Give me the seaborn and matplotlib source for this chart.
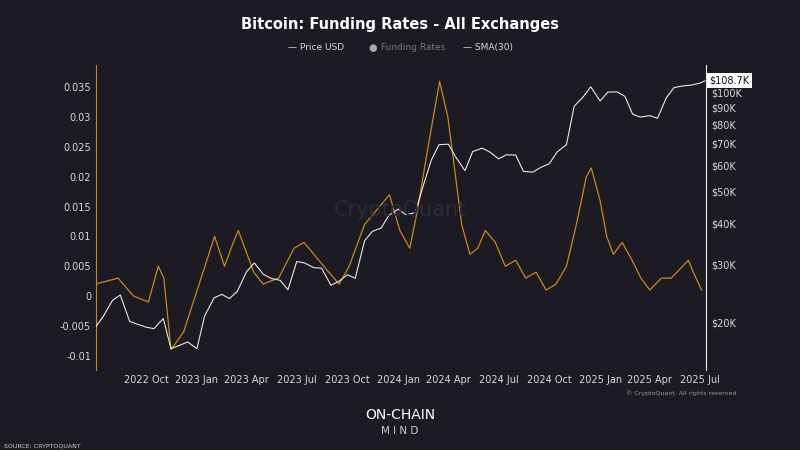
import numpy as np
import pandas as pd
import matplotlib
matplotlib.use("Agg")
import matplotlib.pyplot as plt
import matplotlib.dates as mdates
from matplotlib.ticker import FuncFormatter, FixedLocator, NullLocator
import seaborn as sns

price_dates = ["2022-07-01","2022-07-15","2022-08-01","2022-08-15","2022-09-01","2022-09-15","2022-10-01","2022-10-15",
"2022-11-01","2022-11-15","2022-12-01","2022-12-15","2023-01-01","2023-01-15","2023-02-01","2023-02-15","2023-03-01",
"2023-03-15","2023-04-01","2023-04-15","2023-05-01","2023-05-15","2023-06-01","2023-06-15","2023-07-01","2023-07-15",
"2023-08-01","2023-08-15","2023-09-01","2023-09-15","2023-10-01","2023-10-15","2023-11-01","2023-11-15","2023-12-01",
"2023-12-15","2024-01-01","2024-01-15","2024-02-01","2024-02-15","2024-03-01","2024-03-15","2024-04-01","2024-04-15",
"2024-05-01","2024-05-15","2024-06-01","2024-06-15","2024-07-01","2024-07-15","2024-08-01","2024-08-15","2024-09-01",
"2024-09-15","2024-10-01","2024-10-15","2024-11-01","2024-11-15","2024-12-01","2024-12-15","2025-01-01","2025-01-15",
"2025-02-01","2025-02-15","2025-03-01","2025-03-15","2025-04-01","2025-04-15","2025-05-01","2025-05-15","2025-06-01",
"2025-06-15","2025-07-01","2025-07-10"]
price_usd = [19300,20800,23300,24200,20100,19700,19300,19100,20500,16600,17000,17400,16600,20900,23700,24300,23600,
24800,28500,30300,28000,27200,26800,25100,30600,30300,29300,29200,25900,26600,27900,27200,35400,37800,38700,
42300,44200,42500,43100,51900,62400,69500,69700,63400,57900,66200,67800,66000,62900,64700,64600,57600,57300,
59200,60800,66000,69500,91000,97000,104300,94400,100500,100600,97500,86000,84300,85200,83600,96500,103700,105000,
105500,107000,108700]

sma_dates = ["2022-07-01","2022-08-11","2022-09-08","2022-10-05","2022-10-23","2022-11-02","2022-11-15","2022-12-08",
"2023-01-05","2023-02-02","2023-02-20","2023-03-08","2023-03-17","2023-04-14","2023-05-01","2023-05-29","2023-06-26",
"2023-07-14","2023-08-10","2023-08-28","2023-09-16","2023-10-04","2023-11-01","2023-11-28","2023-12-16","2024-01-04",
"2024-01-22","2024-02-06","2024-02-24","2024-03-16","2024-03-31","2024-04-14","2024-04-25","2024-05-10","2024-05-24",
"2024-06-07","2024-06-25","2024-07-13","2024-08-01","2024-08-19","2024-09-07","2024-09-25","2024-10-13","2024-11-01",
"2024-11-19","2024-12-07","2024-12-16","2025-01-01","2025-01-13","2025-01-25","2025-02-10","2025-02-28","2025-03-16",
"2025-04-01","2025-04-22","2025-05-10","2025-06-10","2025-06-19","2025-07-04"]
sma30 = [0.002,0.003,0.0,-0.001,0.005,0.003,-0.009,-0.006,0.002,0.010,0.005,0.009,0.011,0.004,0.002,0.003,0.008,
0.009,0.006,0.004,0.002,0.005,0.012,0.015,0.017,0.011,0.008,0.015,0.025,0.036,0.030,0.020,0.012,0.007,0.008,
0.011,0.009,0.005,0.006,0.003,0.004,0.001,0.002,0.005,0.012,0.020,0.0215,0.016,0.010,0.007,0.009,0.006,0.003,
0.001,0.003,0.003,0.006,0.004,0.001]

left_ticks = [-0.01,-0.005,0,0.005,0.01,0.015,0.02,0.025,0.03,0.035]
right_ticks = [20000,30000,40000,50000,60000,70000,80000,90000,100000]

price_df = pd.DataFrame({"date": pd.to_datetime(price_dates), "price": price_usd})
sma_df = pd.DataFrame({"date": pd.to_datetime(sma_dates), "sma": sma30})

bg = "#1c1b23"
txt = "#d8d8d8"
orange = "#c9891c"

fig = plt.figure(figsize=(8, 4.5), dpi=100, facecolor=bg)
ax = fig.add_axes([0.12, 0.178, 0.7625, 0.678], facecolor=bg)
sns.lineplot(data=sma_df, x="date", y="sma", ax=ax, color=orange, lw=0.9)
ax.set_ylim(-0.0124, 0.0388)
ax.yaxis.set_major_locator(FixedLocator(left_ticks))
ax.yaxis.set_major_formatter(FuncFormatter(lambda v, p: "0" if abs(v) < 1e-9 else f"{v:g}"))
ax.set_xlim(pd.Timestamp("2022-07-02"), pd.Timestamp("2025-07-12"))
ax.xaxis.set_major_locator(mdates.MonthLocator(bymonth=[1, 4, 7, 10]))
ax.xaxis.set_major_formatter(mdates.DateFormatter("%Y %b"))
ax.set_xlabel(""); ax.set_ylabel("")
ax.tick_params(colors=txt, labelsize=7, length=0)
for s in ax.spines.values():
    s.set_visible(False)
ax.spines["left"].set_visible(True)
ax.spines["left"].set_color(orange)

ax2 = ax.twinx()
sns.lineplot(data=price_df, x="date", y="price", ax=ax2, color="#e8e8e8", lw=0.8)
ax2.set_yscale("log")
ax2.set_ylim(14300, 121700)
ax2.yaxis.set_major_locator(FixedLocator(right_ticks))
ax2.yaxis.set_minor_locator(NullLocator())
ax2.yaxis.set_major_formatter(FuncFormatter(lambda v, p: f"${v/1000:.0f}K"))
ax2.set_ylabel("")
ax2.tick_params(colors=txt, labelsize=7, length=0)
for s in ax2.spines.values():
    s.set_visible(False)
ax2.spines["right"].set_visible(True)
ax2.spines["right"].set_color("#e8e8e8")
ax2.text(1.005, np.log(108700/14300)/np.log(121700/14300), "$108.7K", transform=ax2.transAxes,
         fontsize=7, color="#111", va="center", ha="left",
         bbox=dict(boxstyle="square,pad=0.25", fc="white", ec="none"))

fig.text(0.5, 0.935, "Bitcoin: Funding Rates - All Exchanges", ha="center", color="white",
         fontsize=10.5, fontweight="bold")
fig.text(0.395, 0.888, "— Price USD", ha="center", color=txt, fontsize=6.5)
fig.text(0.466, 0.886, "●", ha="center", color="#aaaaaa", fontsize=7)
fig.text(0.476, 0.888, "Funding Rates", ha="left", color="#777777", fontsize=6.5)
fig.text(0.61, 0.888, "— SMA(30)", ha="center", color=txt, fontsize=6.5)
fig.text(0.5, 0.52, "CryptoQuant", ha="center", color="#2e2d36", fontsize=15)
fig.text(0.92, 0.123, "© CryptoQuant. All rights reserved", ha="right", color="#999", fontsize=4.5)
fig.text(0.5, 0.068, "ON-CHAIN", ha="center", color="white", fontsize=10)
fig.text(0.5, 0.035, "M I N D", ha="center", color="#cccccc", fontsize=7.5)
fig.text(0.005, 0.005, "SOURCE: CRYPTOQUANT", ha="left", color="#ccc", fontsize=4.5)

fig.savefig("out.png", dpi=100, facecolor=bg)
